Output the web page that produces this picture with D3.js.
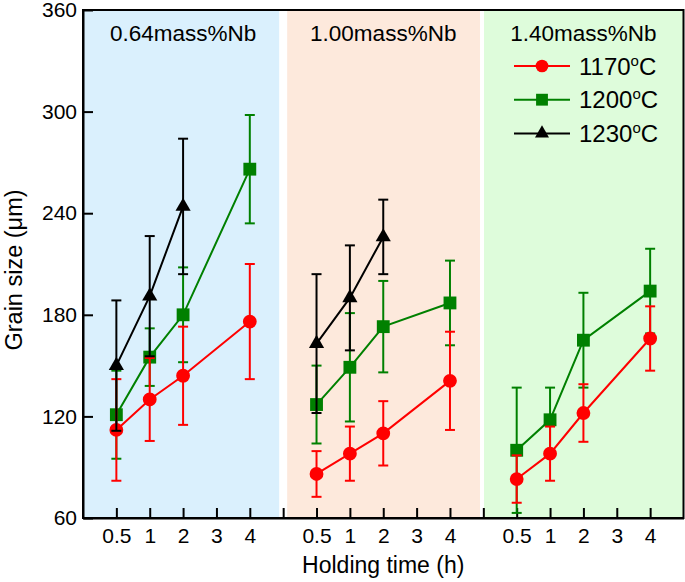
<!DOCTYPE html>
<html>
<head>
<meta charset="utf-8">
<script src="https://cdn.jsdelivr.net/npm/d3@7"></script>
<style>
  body { margin: 0; background: #fff; }
  svg { display: block; font-family: "Liberation Sans", Arial, sans-serif; }
</style>
</head>
<body>
<svg id="chart" width="685" height="582"></svg>
<script>
// panels and categories
const panels = ["0.64mass%Nb", "1.00mass%Nb", "1.40mass%Nb"];
const panelColors = ["#daf0fd", "#fde9dc", "#defcdb"];
const times = ["0.5", "1", "2", "3", "4"];

// 1170 C (red circles)
const times1170 = ["0.5", "1", "2", "4"];
const mean1170 = [[112, 130, 144, 176], [86, 98, 110, 141], [83, 98, 122, 166]];
const err1170 = [[30, 24.5, 29, 34], [13.5, 16, 19, 29], [14, 16, 17, 19]];

// 1200 C (green squares)
const times1200 = ["0.5", "1", "2", "4"];
const mean1200 = [[121, 155, 180, 266], [127, 149, 173, 187], [100, 118, 165, 194]];
const err1200 = [[26, 17, 28, 32], [23, 32, 27, 25], [37, 19, 28, 25]];

// 1230 C (black triangles) - first two panels only
const times1230 = ["0.5", "1", "2"];
const mean1230 = [[150, 191, 244], [163, 190, 226]];
const err1230 = [[38.5, 35.5, 40], [41, 31, 22]];

const yTicks = [60, 120, 180, 240, 300, 360];

const series = [
  { label: "1200", color: "#008000", symbol: d3.symbolSquare, size: 165, times: times1200, mean: mean1200, err: err1200 },
  { label: "1170", color: "#ff0000", symbol: d3.symbolCircle, size: 150, times: times1170, mean: mean1170, err: err1170 },
  { label: "1230", color: "#000000", symbol: d3.symbolTriangle, size: 100, times: times1230, mean: mean1230, err: err1230 }
];
const legendOrder = ["1170", "1200", "1230"];

const svg = d3.select("#chart");
const mLeft = 83, mRight = 683.5, mTop = 10, mBottom = 518;
const slots = times.length + 1;

const x = d3.scaleLinear().domain([0, panels.length * slots]).range([mLeft, mRight]);
const y = d3.scaleLinear().domain([60, 360]).range([mBottom, mTop]);

const pos = (p, t) => p * slots + 1 + times.indexOf(t);

// panel backgrounds
const bands = [[0, 5.88], [6.12, 11.9], [12.02, 18]];
svg.append("g").selectAll("rect")
  .data(panels)
  .enter().append("rect")
  .attr("x", (d, i) => x(bands[i][0]))
  .attr("width", (d, i) => x(bands[i][1]) - x(bands[i][0]))
  .attr("y", mTop)
  .attr("height", mBottom - mTop)
  .attr("fill", (d, i) => panelColors[i]);

// panel labels
svg.append("g").selectAll("text")
  .data(panels)
  .enter().append("text")
  .attr("x", (d, i) => x(pos(i, "2")))
  .attr("y", 41)
  .attr("text-anchor", "middle")
  .attr("font-size", 22.5)
  .text(d => d);

// axes
const xTickVals = d3.range(1, panels.length * slots);
const xAxis = d3.axisBottom(x)
  .tickValues(xTickVals)
  .tickSizeInner(-10)
  .tickSizeOuter(0)
  .tickPadding(10)
  .tickFormat(v => (v % slots === 0) ? "" : times[(v % slots) - 1]);

const gx = svg.append("g").attr("transform", `translate(0,${mBottom})`).call(xAxis);
gx.selectAll("text").attr("font-size", 21).attr("fill", "#000").attr("font-family", "Liberation Sans, Arial, sans-serif");
gx.selectAll("line").attr("stroke-width", 2);
gx.select(".domain").attr("stroke-width", 2);

const yAxis = d3.axisLeft(y)
  .tickValues(yTicks)
  .tickSizeInner(-10)
  .tickSizeOuter(0)
  .tickPadding(6);
const gy = svg.append("g").attr("transform", `translate(${mLeft},0)`).call(yAxis);
gy.selectAll("text").attr("font-size", 21).attr("fill", "#000").attr("font-family", "Liberation Sans, Arial, sans-serif");
gy.selectAll("line").attr("stroke-width", 2);
gy.select(".domain").attr("stroke-width", 2);

// frame
svg.append("rect")
  .attr("x", mLeft).attr("y", mTop)
  .attr("width", mRight - mLeft).attr("height", mBottom - mTop)
  .attr("fill", "none").attr("stroke", "#000").attr("stroke-width", 2);

// data
const line = d3.line().x(d => x(d.x)).y(d => y(d.v));

series.forEach(s => {
  const g = svg.append("g");
  s.mean.forEach((vals, p) => {
    const pts = vals.map((v, i) => ({ x: pos(p, s.times[i]), v: v, e: s.err[p][i] }));

    // error bars
    const eb = g.append("g").attr("stroke", s.color).attr("stroke-width", 2);
    pts.forEach(d => {
      eb.append("line").attr("x1", x(d.x)).attr("x2", x(d.x)).attr("y1", y(d.v - d.e)).attr("y2", y(d.v + d.e));
      eb.append("line").attr("x1", x(d.x) - 5).attr("x2", x(d.x) + 5).attr("y1", y(d.v - d.e)).attr("y2", y(d.v - d.e));
      eb.append("line").attr("x1", x(d.x) - 5).attr("x2", x(d.x) + 5).attr("y1", y(d.v + d.e)).attr("y2", y(d.v + d.e));
    });

    g.append("path")
      .datum(pts)
      .attr("d", line)
      .attr("fill", "none")
      .attr("stroke", s.color)
      .attr("stroke-width", 2);

    g.selectAll(null)
      .data(pts)
      .enter().append("path")
      .attr("d", d3.symbol().type(s.symbol).size(s.size))
      .attr("transform", d => `translate(${x(d.x)},${y(d.v)})`)
      .attr("fill", s.color);
  });
});

// legend
const legend = svg.append("g");
legendOrder.forEach((lab, i) => {
  const s = series.find(d => d.label === lab);
  const cy = 66 + i * 33.7;
  legend.append("line")
    .attr("x1", 514).attr("x2", 570).attr("y1", cy).attr("y2", cy)
    .attr("stroke", s.color).attr("stroke-width", 2);
  legend.append("path")
    .attr("d", d3.symbol().type(s.symbol).size(s.size * 0.85))
    .attr("transform", `translate(542,${cy})`)
    .attr("fill", s.color);
  const t = legend.append("text")
    .attr("x", 579).attr("y", cy + 8.5)
    .attr("font-size", 24);
  t.append("tspan").text(lab);
  t.append("tspan").attr("font-size", 15).attr("dy", -9).text("o");
  t.append("tspan").attr("dy", 9).text("C");
});

// axis titles
svg.append("text")
  .attr("x", x(pos(1, "2")))
  .attr("y", 573)
  .attr("text-anchor", "middle")
  .attr("font-size", 23)
  .text("Holding time (h)");

svg.append("text")
  .attr("transform", "translate(22,270) rotate(-90)")
  .attr("text-anchor", "middle")
  .attr("font-size", 23.5)
  .text("Grain size (μm)");
</script>
</body>
</html>
